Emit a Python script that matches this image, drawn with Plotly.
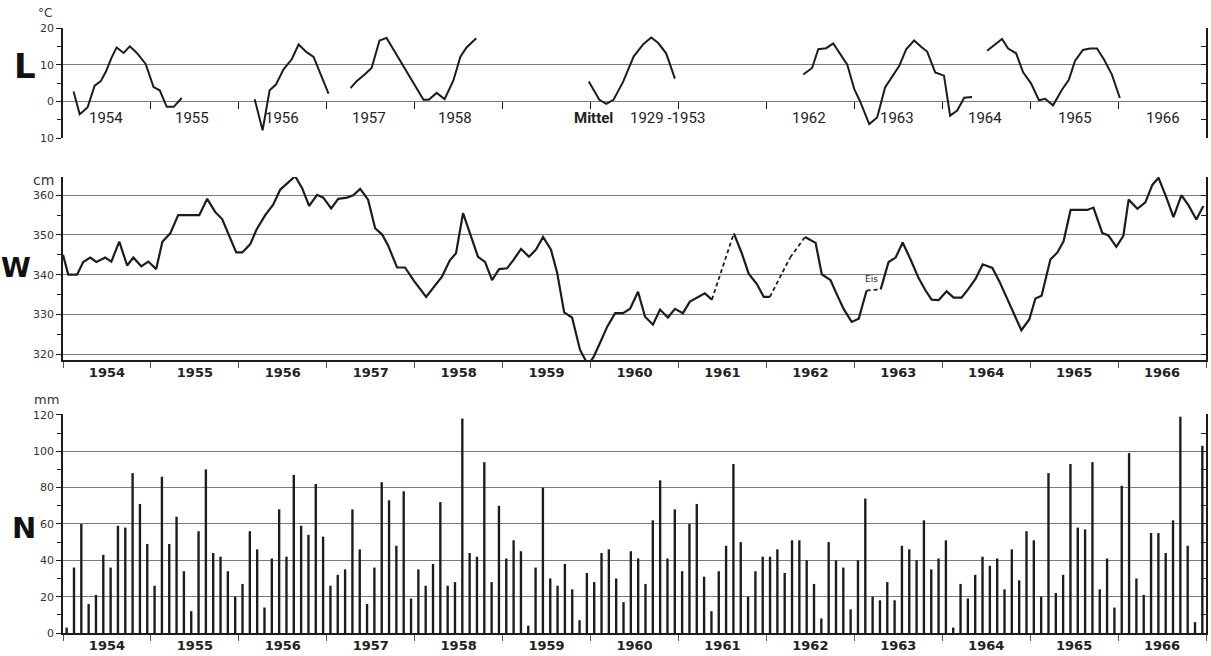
import plotly.graph_objects as go

# ---------------- data ----------------
# L: air temperature (deg C), time in decimal years; None separates drawn segments
L_time = [1954.12, 1954.19, 1954.23, 1954.28, 1954.36, 1954.43, 1954.49, 1954.55, 1954.61, 1954.69,
          1954.76, 1954.84, 1954.94, 1955.03, 1955.10, 1955.18, 1955.26, 1955.35, None,
          1956.18, 1956.27, 1956.35, 1956.42, 1956.51, 1956.60, 1956.68, 1956.77, 1956.85, 1957.02, None,
          1957.27, 1957.34, 1957.44, 1957.51, 1957.60, 1957.68, 1958.10, 1958.16, 1958.25, 1958.34,
          1958.44, 1958.52, 1958.59, 1958.70, None,
          1959.98, 1960.10, 1960.18, 1960.26, 1960.37, 1960.49, 1960.60, 1960.69, 1960.77, 1960.86, 1960.96, None,
          1962.42, 1962.52, 1962.59, 1962.68, 1962.76, 1962.84, 1962.92, 1963.00, 1963.06, 1963.17,
          1963.26, 1963.35, 1963.44, 1963.51, 1963.59, 1963.68, 1963.76, 1963.83, 1963.92, 1964.02,
          1964.09, 1964.17, 1964.25, 1964.34, None,
          1964.51, 1964.60, 1964.68, 1964.75, 1964.84, 1964.92, 1965.01, 1965.10, 1965.17, 1965.26,
          1965.36, 1965.44, 1965.51, 1965.60, 1965.68, 1965.76, 1965.84, 1965.93, 1966.02]
L_temp = [2.7, -3.5, -2.7, -1.6, 4.3, 5.5, 8.2, 11.8, 14.7, 13.2,
          15.0, 13.2, 10.2, 3.9, 3.0, -1.5, -1.5, 0.9, None,
          0.6, -7.9, 3.0, 4.5, 8.8, 11.4, 15.5, 13.4, 12.1, 2.1, None,
          3.6, 5.5, 7.5, 9.1, 16.6, 17.3, 0.4, 0.4, 2.3, 0.6,
          5.7, 12.2, 14.7, 17.2, None,
          5.4, 0.4, -0.7, 0.4, 5.3, 12.2, 15.6, 17.4, 15.9, 13.1, 6.2, None,
          7.3, 9.1, 14.2, 14.5, 15.8, 12.8, 10.0, 3.3, 0.3, -6.2,
          -4.4, 3.8, 7.0, 9.6, 14.2, 16.6, 14.9, 13.5, 7.9, 7.0,
          -3.9, -2.5, 1.0, 1.2, None,
          13.8, 15.6, 17.0, 14.4, 13.1, 7.9, 4.9, 0.3, 0.7, -1.1,
          3.1, 5.9, 11.0, 14.0, 14.4, 14.4, 11.4, 7.3, 0.9]
L_labels = ["1954", "1955", "1956", "1957", "1958", "Mittel", "1929 -1953",
            "1962", "1963", "1964", "1965", "1966"]
L_label_pos = [1954.49, 1955.47, 1956.49, 1957.48, 1958.46, 1960.03, 1960.87,
               1962.48, 1963.49, 1964.49, 1965.51, 1966.51]

# W: water level (cm)
W_time = [1954.00, 1954.06, 1954.16, 1954.23, 1954.31, 1954.38, 1954.48, 1954.55, 1954.64, 1954.73,
          1954.80, 1954.89, 1954.97, 1955.06, 1955.13, 1955.22, 1955.31, 1955.39, 1955.47, 1955.55,
          1955.64, 1955.73, 1955.81, 1955.88, 1955.97, 1956.04, 1956.13, 1956.20, 1956.30, 1956.39,
          1956.47, 1956.55, 1956.64, 1956.72, 1956.80, 1956.89, 1956.96, 1957.05, 1957.13, 1957.23,
          1957.30, 1957.38, 1957.47, 1957.55, 1957.63, 1957.70, 1957.80, 1957.89, 1957.99, 1958.13,
          1958.21, 1958.31, 1958.40, 1958.47, 1958.55, 1958.63, 1958.72, 1958.80, 1958.88, 1958.96,
          1959.05, 1959.12, 1959.21, 1959.30, 1959.38, 1959.46, 1959.55, 1959.62, 1959.70, 1959.79,
          1959.88, 1959.97, 1960.03, 1960.11, 1960.19, 1960.28, 1960.37, 1960.45, 1960.54, 1960.62,
          1960.71, 1960.79, 1960.88, 1960.96, 1961.05, 1961.13, 1961.22, 1961.30, 1961.38, 1961.63,
          1961.72, 1961.80, 1961.89, 1961.97, 1962.04, 1962.27, 1962.44, 1962.56, 1962.63, 1962.73,
          1962.80, 1962.88, 1962.97, 1963.05, 1963.14, 1963.30, 1963.39, 1963.47, 1963.55, 1963.64,
          1963.73, 1963.81, 1963.88, 1963.96, 1964.05, 1964.13, 1964.22, 1964.30, 1964.38, 1964.46,
          1964.57, 1964.65, 1964.74, 1964.81, 1964.90, 1964.99, 1965.06, 1965.13, 1965.23, 1965.31,
          1965.38, 1965.46, 1965.55, 1965.65, 1965.72, 1965.82, 1965.89, 1965.98, 1966.06, 1966.12,
          1966.22, 1966.31, 1966.39, 1966.46, 1966.55, 1966.63, 1966.72, 1966.80, 1966.89, 1966.97]
W_cm = [345.0, 340.0, 340.0, 343.2, 344.3, 343.2, 344.3, 343.3, 348.3, 342.3,
        344.3, 342.1, 343.3, 341.4, 348.3, 350.4, 355.0, 355.0, 355.0, 355.0,
        359.1, 355.8, 354.0, 350.4, 345.6, 345.6, 347.7, 351.3, 355.0, 357.6,
        361.4, 363.0, 364.8, 361.8, 357.3, 360.1, 359.4, 356.7, 359.1, 359.4,
        360.0, 361.6, 358.9, 351.7, 350.1, 347.2, 341.8, 341.8, 338.5, 334.4,
        336.8, 339.5, 343.6, 345.4, 355.5, 350.4, 344.5, 343.2, 338.6, 341.4,
        341.6, 343.6, 346.5, 344.5, 346.3, 349.5, 346.3, 340.5, 330.5, 329.2,
        321.1, 317.3, 319.1, 322.9, 326.9, 330.3, 330.3, 331.4, 335.7, 329.4,
        327.4, 331.2, 329.2, 331.4, 330.3, 333.2, 334.4, 335.3, 333.7, 350.4,
        345.4, 340.2, 337.7, 334.4, 334.4, 344.3, 349.5, 348.0, 340.1, 338.6,
        335.1, 331.3, 328.1, 328.9, 336.0, 336.3, 343.2, 344.3, 348.1, 343.8,
        339.2, 336.0, 333.7, 333.6, 335.8, 334.2, 334.2, 336.5, 339.0, 342.6,
        341.7, 338.3, 334.0, 330.5, 326.0, 328.7, 334.0, 334.7, 343.8, 345.6,
        348.4, 356.3, 356.3, 356.3, 356.9, 350.5, 349.9, 347.0, 349.8, 358.9,
        356.6, 358.2, 362.6, 364.4, 359.4, 354.5, 360.0, 357.5, 353.9, 357.3]
# segments starting at these times are drawn dashed (interpolated / ice)
W_dashed_from = [1961.38, 1962.04, 1962.27, 1963.14]

# N: monthly precipitation (mm), Jan 1954 .. Dec 1966
N_mm = [3, 36, 60, 16, 21, 43, 36, 59, 58, 88, 71, 49,
        26, 86, 49, 64, 34, 12, 56, 90, 44, 42, 34, 20,
        27, 56, 46, 14, 41, 68, 42, 87, 59, 54, 82, 53,
        26, 32, 35, 68, 46, 16, 36, 83, 73, 48, 78, 19,
        35, 26, 38, 72, 26, 28, 118, 44, 42, 94, 28, 70,
        41, 51, 45, 4, 36, 80, 30, 26, 38, 24, 7, 33,
        28, 44, 46, 30, 17, 45, 41, 27, 62, 84, 41, 68,
        34, 60, 71, 31, 12, 34, 48, 93, 50, 20, 34, 42,
        42, 46, 33, 51, 51, 40, 27, 8, 50, 40, 36, 13,
        40, 74, 20, 18, 28, 18, 48, 46, 40, 62, 35, 41,
        51, 3, 27, 19, 32, 42, 37, 41, 24, 46, 29, 56,
        51, 20, 88, 22, 32, 93, 58, 57, 94, 24, 41, 14,
        81, 99, 30, 21, 55, 55, 44, 62, 119, 48, 6, 103]
years = list(range(1954, 1967))
year_labels = [str(y) for y in years]

# ---------------- figure ----------------
INK = "#1c1c1c"
GRID = "#7a7a7a"
FONT = "DejaVu Sans"

N_time = [1954 + (m + 0.5) / 12 for m in range(len(N_mm))]
year_mid = [y + 0.5 for y in years]
year_edges = list(range(1954, 1968))

# solid and dashed versions of the W line
solid_x, solid_y, dash_x, dash_y = [], [], [], []
for i in range(len(W_time)):
    solid_x.append(W_time[i]); solid_y.append(W_cm[i])
    if i < len(W_time) - 1 and W_time[i] in W_dashed_from:
        solid_x.append(None); solid_y.append(None)
        dash_x += [W_time[i], W_time[i + 1], None]
        dash_y += [W_cm[i], W_cm[i + 1], None]

fig = go.Figure()
fig.add_trace(go.Scatter(x=L_time, y=L_temp, mode="lines", line=dict(color=INK, width=2),
                         xaxis="x", yaxis="y", hoverinfo="skip", connectgaps=False))
fig.add_trace(go.Scatter(x=solid_x, y=solid_y, mode="lines", line=dict(color=INK, width=2.2),
                         xaxis="x2", yaxis="y2", hoverinfo="skip", connectgaps=False))
fig.add_trace(go.Scatter(x=dash_x, y=dash_y, mode="lines",
                         line=dict(color=INK, width=1.8, dash="4px,3px"),
                         xaxis="x2", yaxis="y2", hoverinfo="skip", connectgaps=False))
fig.add_trace(go.Bar(x=N_time, y=N_mm, width=0.027, marker=dict(color=INK, line=dict(width=0)),
                     xaxis="x3", yaxis="y3", hoverinfo="skip"))
# invisible helper traces so the right-hand axes are drawn
for xa, ya, yv in (("x", "y4", 0), ("x2", "y5", 340), ("x3", "y6", 60)):
    fig.add_trace(go.Scatter(x=[1960], y=[yv], xaxis=xa, yaxis=ya, mode="markers",
                             marker=dict(size=1, opacity=0), hoverinfo="skip"))

H = 656.0
def fy(px):
    return 1 - px / H

top_dom = [fy(138), fy(28)]
mid_dom = [fy(360), fy(177)]
bot_dom = [fy(633), fy(414)]
zero_pos = fy(28 + 110 * 20 / 30)

tickfont_y = dict(family=FONT, size=11, color="#333")
yearfont = dict(family=FONT, size=13, color="#222", weight="bold")

common_y = dict(showline=True, linecolor=INK, linewidth=1.5, ticks="outside", ticklen=5,
                tickcolor=INK, gridcolor=GRID, gridwidth=1, zeroline=False, tickfont=tickfont_y,
                fixedrange=True, automargin=False)

def right_axis(over, anchor, rng, t0, dt):
    return dict(overlaying=over, side="right", anchor=anchor, range=rng, showline=True,
                linecolor=INK, linewidth=1.5, ticks="inside", ticklen=5, tickcolor=INK,
                tickmode="linear", tick0=t0, dtick=dt, showticklabels=False, showgrid=False,
                zeroline=False, fixedrange=True, automargin=False)

fig.update_layout(
    width=1211, height=656,
    margin=dict(l=63, r=5, t=0, b=0, autoexpand=False),
    paper_bgcolor="white", plot_bgcolor="white",
    showlegend=False,
    xaxis=dict(domain=[0, 1], range=[1954, 1967], anchor="free", position=zero_pos,
               tickmode="array", tickvals=year_edges[1:-1], ticks="outside", ticklen=7,
               tickcolor=INK, showticklabels=False, showline=False, showgrid=False,
               zeroline=False, fixedrange=True, automargin=False),
    yaxis=dict(domain=top_dom, range=[-10, 20], anchor="x", tickmode="array",
               tickvals=[-10, 0, 10, 20], ticktext=["10", "0", "10", "20"],
               minor=dict(tick0=-10, dtick=5, ticks="outside", ticklen=4, tickcolor=INK, showgrid=False),
               **common_y),
    xaxis2=dict(domain=[0, 1], range=[1954, 1967], anchor="y2", tickmode="array",
                tickvals=year_mid, ticktext=year_labels, ticks="", tickfont=yearfont,
                minor=dict(tickmode="array", tickvals=year_edges, ticks="outside", ticklen=6,
                           tickcolor="#555", showgrid=False),
                showline=True, linecolor=INK, linewidth=1.5, showgrid=False, zeroline=False,
                fixedrange=True, automargin=False),
    yaxis2=dict(domain=mid_dom, range=[318.5, 364.6], anchor="x2", tickmode="array",
                tickvals=[320, 330, 340, 350, 360],
                minor=dict(tick0=320, dtick=5, ticks="outside", ticklen=4, tickcolor=INK, showgrid=False),
                **common_y),
    xaxis3=dict(domain=[0, 1], range=[1954, 1967], anchor="y3", tickmode="array",
                tickvals=year_mid, ticktext=year_labels, ticks="", tickfont=yearfont,
                minor=dict(tickmode="array", tickvals=year_edges, ticks="outside", ticklen=6,
                           tickcolor="#555", showgrid=False),
                showline=True, linecolor=INK, linewidth=1.5, showgrid=False, zeroline=False,
                fixedrange=True, automargin=False),
    yaxis3=dict(domain=bot_dom, range=[0, 120.5], anchor="x3", tickmode="array",
                tickvals=[0, 20, 40, 60, 80, 100, 120],
                minor=dict(tick0=0, dtick=10, ticks="outside", ticklen=4, tickcolor=INK, showgrid=False),
                **common_y),
    yaxis4=right_axis("y", "x", [-10, 20], -10, 5),
    yaxis5=right_axis("y2", "x2", [318.5, 364.6], 320, 5),
    yaxis6=right_axis("y3", "x3", [0, 120.5], 0, 10),
)

W_px = 1143.0
def fx(px):
    return (px - 63) / W_px

ann = []
# big panel letters
for txt, px, py, sz in (("L", 25, 66, 34), ("W", 16, 268, 27), ("N", 24, 528, 29)):
    ann.append(dict(text=txt, x=fx(px), y=fy(py), xref="paper", yref="paper", showarrow=False,
                    font=dict(family=FONT, size=sz, color="#111", weight="bold"),
                    xanchor="center", yanchor="middle"))
# unit labels
for txt, px, py, sz in (("°C", 45, 13, 12), ("cm", 43, 180, 14), ("mm", 46, 399, 13)):
    ann.append(dict(text=txt, x=fx(px), y=fy(py), xref="paper", yref="paper", showarrow=False,
                    font=dict(family=FONT, size=sz, color="#333"), xanchor="center", yanchor="middle"))
# year labels in the temperature panel
for txt, xv in zip(L_labels, L_label_pos):
    bold = txt == "Mittel"
    ann.append(dict(text=txt, x=xv, y=-4.6, xref="x", yref="y", showarrow=False,
                    font=dict(family="Roboto", size=15, color="#222",
                              weight="bold" if bold else "normal"),
                    xanchor="center", yanchor="middle"))
# ice note
ann.append(dict(text="Eis", x=1963.20, y=338.8, xref="x2", yref="y2", showarrow=False,
                font=dict(family=FONT, size=9, color="#222"), xanchor="center", yanchor="middle"))
fig.update_layout(annotations=ann)

fig.write_html("out.html", config={"displayModeBar": False},
               post_script="document.body.style.margin='0px';document.body.style.overflow='hidden';")
